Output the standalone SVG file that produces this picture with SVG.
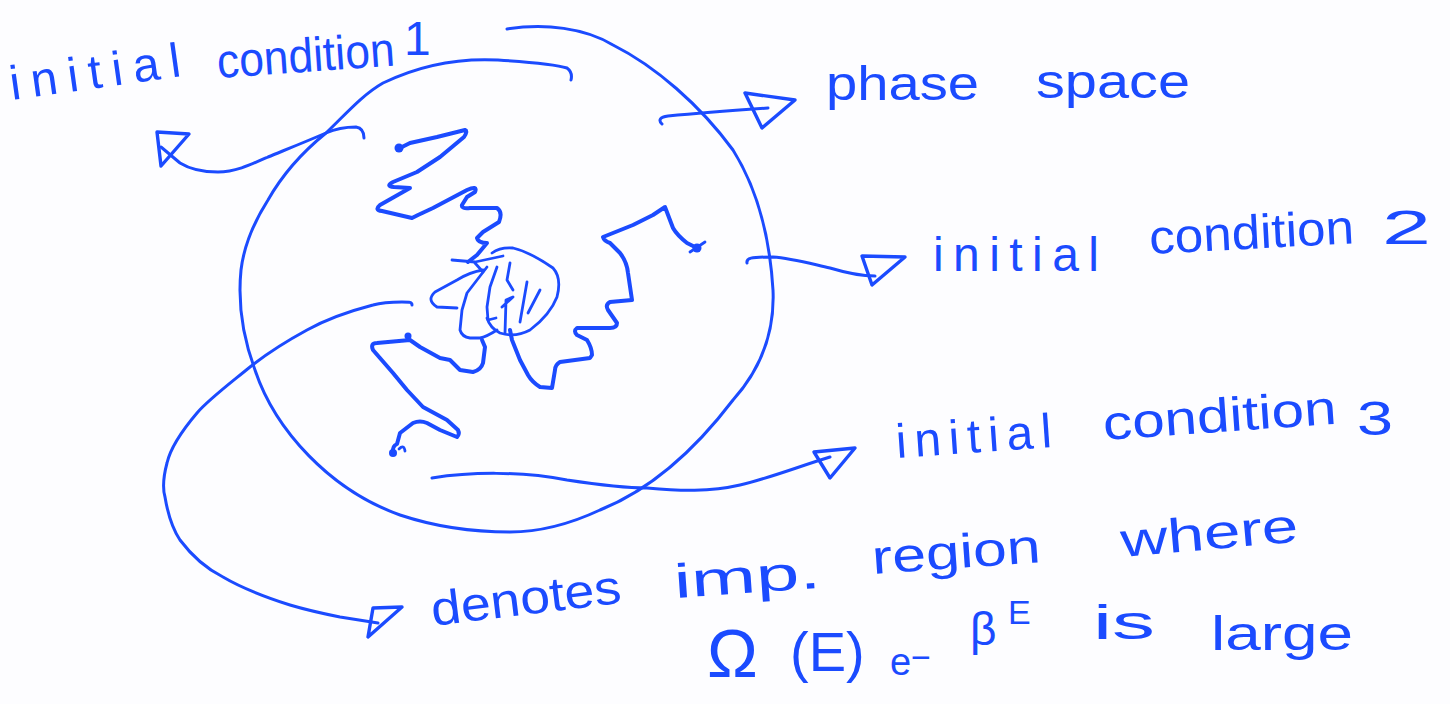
<svg xmlns="http://www.w3.org/2000/svg" width="1450" height="704" viewBox="0 0 1450 704">
  <style>
    .ink { fill: none; stroke: #1b4bff; stroke-linecap: round; stroke-linejoin: round; }
    .rim { stroke-width: 3; }
    .walk { stroke-width: 4; }
    .fine { stroke-width: 2.8; }
    .wire { stroke-width: 3; }
    .head { fill: none; stroke: #1b4bff; stroke-width: 3.4; stroke-linejoin: round; }
    .dot { fill: #1b4bff; }
    .lbl { font-family: "Liberation Sans", Arial, sans-serif; fill: #1b4bff; font-size: 48px; }
  </style>

  <rect width="1450" height="704" fill="#fdfdff"/>

  <!-- phase space boundary: a single open loop, start and end overlap at the top -->
  <g id="phase-space">
    <path class="ink rim" d="M507,29 C545,23 585,28 613,45 C655,66 700,105 733,150 C758,190 770,240 773,290 C775,335 760,370 733,400 C695,450 650,490 600,510 C570,524 540,532 510,532 C470,532 430,525 400,515 C330,490 275,430 255,370 C242,335 238,300 241,270 C244,245 254,222 268,200 C285,170 305,150 326,133 C345,115 362,95 383,83 C420,65 460,58 498,60 C530,62 555,64 567,68 C571,71 572,76 571,80"/>
  </g>

  <!-- three random walks heading into the dense region -->
  <g id="trajectory-1">
    <circle class="dot" cx="399" cy="148" r="4.5"/>
    <path class="ink walk" d="M400,148 L410,143 L437,137 L465,130 Q468,131 464,137 L440,157 L417,172 L393,182 Q385,186 394,187 L410,188 L380,205 Q374,210 382,211 L412,218 L418,215 L433,208 L467,190 Q478,185 475,192 L467,197 L462,205 Q461,209 470,208 L497,208 Q503,212 499,222 L483,232 L477,238 Q478,243 487,243 L477,255 L468,262"/>
  </g>

  <g id="trajectory-2">
    <circle class="dot" cx="697" cy="248" r="4.5"/>
    <path class="ink fine" d="M705,242 L690,252"/>
    <path class="ink walk" d="M697,248 L687,243 Q677,235 673,228 L665,207 L653,215 L633,225 L603,237 Q604,241 610,243 L620,253 Q627,262 628,273 L632,300 L610,302 Q605,305 608,310 L617,323 Q617,328 610,328 L577,328 Q573,331 577,335 L587,340 Q592,348 592,355 L590,358 L560,362 Q555,365 555,370 L552,388 L540,387 Q532,382 528,375 L520,360 L512,340 L510,330"/>
  </g>

  <g id="trajectory-3">
    <circle class="dot" cx="393" cy="453" r="4"/>
    <circle class="dot" cx="408" cy="336" r="3.5"/>
    <path class="ink fine" d="M399,449 Q404,444 405,451"/>
    <path class="ink walk" d="M393,453 Q392,446 397,444 L400,433 L413,423 Q420,420 427,423 L440,430 L457,437 Q460,434 458,430 L447,420 L423,407 L407,390 L393,373 L373,350 Q370,343 377,343 L410,340 L420,347 L440,358 L450,360 L460,370 L473,372 Q481,370 483,363 L485,347 L482,340"/>
  </g>

  <!-- tangled region where the walks pile up -->
  <g id="dense-region">
    <path class="ink fine" d="M492,253 Q500,247 513,248 Q530,252 553,268 Q562,278 557,297 Q550,315 530,330 Q515,338 500,333 Q490,328 487,318"/>
    <path class="ink fine" d="M487,267 L467,293 L462,310 L460,330 Q462,337 470,338 L480,338 Q486,337 497,330"/>
    <path class="ink fine" d="M483,270 Q470,272 457,280 L435,292 Q426,300 437,307 L457,308"/>
    <path class="ink fine" d="M452,260 L475,262 L503,256"/>
    <path class="ink fine" d="M475,263 L483,272"/>
    <path class="ink fine" d="M510,263 L507,280 L513,290"/>
    <path class="ink fine" d="M497,267 L490,287 L487,307 L488,320 L496,318"/>
    <path class="ink fine" d="M527,282 L520,322"/>
    <path class="ink fine" d="M540,290 L528,313"/>
    <path class="ink fine" d="M502,307 L513,297 L506,300 L505,333"/>
  </g>

  <!-- labels -->
  <g id="label-initial-condition-1">
    <text class="lbl" x="12" y="100" font-size="46" textLength="172" lengthAdjust="spacing" transform="rotate(-8 12 100)">initial</text>
    <text class="lbl" x="218" y="78" font-size="46" textLength="178" lengthAdjust="spacingAndGlyphs" transform="rotate(-4 218 78)">condition</text>
    <text class="lbl" x="404" y="55" font-size="50">1</text>
  </g>

  <g id="label-phase-space">
    <text class="lbl" x="826" y="100" font-size="44" textLength="153" lengthAdjust="spacingAndGlyphs">phase</text>
    <text class="lbl" x="1036" y="98" font-size="44" textLength="154" lengthAdjust="spacingAndGlyphs">space</text>
  </g>

  <g id="label-initial-condition-2">
    <text class="lbl" x="933" y="271" textLength="166" lengthAdjust="spacing">initial</text>
    <text class="lbl" x="1150" y="254" textLength="205" lengthAdjust="spacingAndGlyphs" transform="rotate(-3 1150 254)">condition</text>
    <text class="lbl" x="1382" y="244" font-size="46" textLength="49" lengthAdjust="spacingAndGlyphs">2</text>
  </g>

  <g id="label-initial-condition-3">
    <text class="lbl" x="897" y="458" textLength="156" lengthAdjust="spacing" transform="rotate(-4 897 458)">initial</text>
    <text class="lbl" x="1104" y="440" textLength="234" lengthAdjust="spacingAndGlyphs" transform="rotate(-4 1104 440)">condition</text>
    <text class="lbl" x="1357" y="435" font-size="54" textLength="36" lengthAdjust="spacingAndGlyphs">3</text>
  </g>

  <g id="label-important-region">
    <text class="lbl" x="433" y="626" textLength="191" lengthAdjust="spacingAndGlyphs" transform="rotate(-7 433 626)">denotes</text>
    <text class="lbl" x="675" y="598" font-size="44" textLength="147" lengthAdjust="spacingAndGlyphs" transform="rotate(-4 675 598)">imp.</text>
    <text class="lbl" x="873" y="574" textLength="169" lengthAdjust="spacingAndGlyphs" transform="rotate(-4 873 574)">region</text>
    <text class="lbl" x="1122" y="557" textLength="178" lengthAdjust="spacingAndGlyphs" transform="rotate(-5 1122 557)">where</text>
    <text class="lbl"><tspan x="707" y="677" font-size="68">Ω</tspan><tspan x="790" y="671" font-size="56">(E)</tspan><tspan x="890" y="675" font-size="38">e</tspan><tspan x="911" y="669" font-size="34">−</tspan><tspan x="970" y="645" font-size="46">β</tspan><tspan x="1008" y="624" font-size="34">E</tspan></text>
    <text class="lbl" x="1093" y="639" font-size="42" textLength="62" lengthAdjust="spacingAndGlyphs">is</text>
    <text class="lbl" x="1211" y="650" font-size="60" textLength="142" lengthAdjust="spacingAndGlyphs">large</text>
  </g>

  <!-- connectors with open hand-drawn triangle heads -->
  <g id="connectors">
    <path class="ink wire" d="M364,138 C364,132 362,128 356,127 C345,127 335,129 326,133 C305,142 285,150 268,157 C250,165 235,172 218,172 C200,172 188,168 180,163 L161,147"/>
    <polygon class="head" points="157,132 161,166 189,134"/>

    <path class="ink wire" d="M662,124 C658,120 660,117 668,116 C700,113 740,110 768,108"/>
    <polygon class="head" points="745,93 795,100 762,128"/>

    <path class="ink wire" d="M747,263 C746,258 750,257 773,257 C790,258 808,263 830,268 C850,274 862,276 875,276"/>
    <polygon class="head" points="862,256 905,257 872,285"/>

    <path class="ink wire" d="M432,478 C470,472 520,471 567,480 C600,485 630,488 647,488 C680,491 710,492 740,485 C770,478 800,466 830,457"/>
    <polygon class="head" points="814,452 855,448 830,478"/>

    <path class="ink wire" d="M412,305 C412,302 410,302 402,302 C390,302 380,303 373,305 C350,311 325,320 307,330 C285,342 265,355 250,367 C228,385 208,400 197,413 C180,433 170,450 167,463 C163,478 163,490 165,497 C168,515 172,528 180,540 C192,556 205,568 223,577 C245,590 268,598 290,605 C310,611 325,614 340,617 L378,623"/>
    <polygon class="head" points="373,608 402,607 368,637"/>
  </g>
</svg>
